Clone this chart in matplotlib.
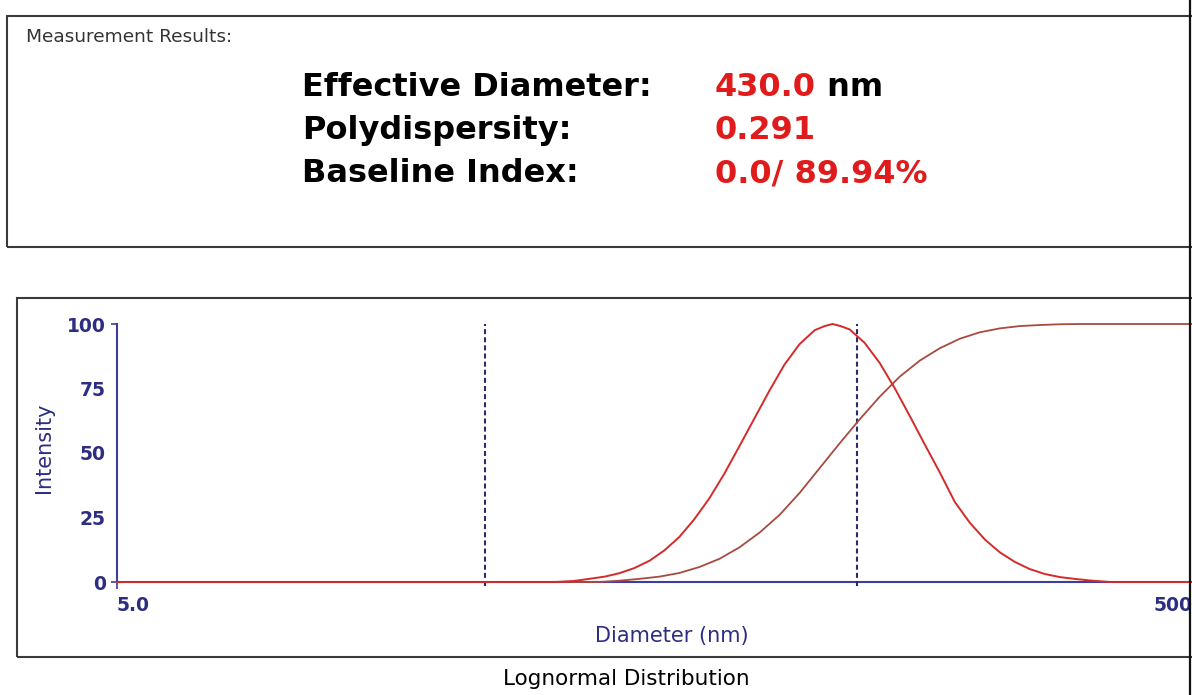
import matplotlib
matplotlib.use("Agg")
import matplotlib.pyplot as plt
from matplotlib.patches import Rectangle
from matplotlib.lines import Line2D
from matplotlib.ticker import NullLocator

W, H = 1192, 695

# measurement summary
result_labels = ["Effective Diameter:", "Polydispersity:", "Baseline Index:"]
result_values = ["430.0", "0.291", "0.0/ 89.94%"]
result_units = [" nm", "", ""]

# intensity distribution, diameter in nm
diam_dist = [5, 93, 105, 116, 129, 142, 157, 174, 192, 212, 234, 259, 286, 316, 350,
             387, 427, 472, 522, 558, 588, 620, 659, 728, 805, 890, 984, 1087, 1201, 1328,
             1467, 1621, 1792, 1980, 2189, 2419, 2673, 2954, 3265, 3731, 6500]
intensity = [0, 0, 0.4, 1.2, 2.1, 3.4, 5.4, 8.3, 12.3, 17.5, 24.3, 32.5, 42.0, 52.6, 63.6,
             74.4, 84.3, 92.2, 97.6, 99.2, 100.0, 99.2, 97.9, 92.7, 84.9, 75.1, 64.3, 53.3,
             42.5, 31.0, 23.0, 16.5, 11.5, 7.8, 5.0, 3.1, 1.9, 1.2, 0.6, 0, 0]

# cumulative curve
diam_cum = [5, 124, 142, 162, 186, 212, 242, 277, 316, 362, 413, 472, 540, 617, 704,
            805, 920, 1051, 1201, 1373, 1569, 1792, 2048, 2339, 2673, 3055, 6500]
cumulative = [0, 0, 0.5, 1.2, 2.1, 3.5, 5.8, 9.0, 13.4, 19.2, 26.0, 34.5, 44.2, 53.8, 63.0,
              71.8, 79.6, 85.8, 90.6, 94.3, 96.8, 98.3, 99.2, 99.6, 99.9, 100, 100]

marker_diams = [58, 690]

x_ticks = [5, 5000]
x_tick_labels = ["5.0", "5000"]
y_major = [0, 100]
y_minor = [25, 50, 75]

NAVY = "#2d2d82"
AXIS = "#3d3d9e"
RED = "#e01b1b"


def fx(x):
    return x / W


def fy(y):
    return 1 - y / H


fig = plt.figure(figsize=(W / 100, H / 100), dpi=100)

# frames
fig.add_artist(Rectangle((fx(7), fy(247)), 1.2, fy(16) - fy(247), transform=fig.transFigure,
                         fill=False, ec="#3a3a3a", lw=1.5))
fig.add_artist(Rectangle((fx(17), fy(657)), 1.2, fy(298) - fy(657), transform=fig.transFigure,
                         fill=False, ec="#3a3a3a", lw=1.5))
fig.add_artist(Line2D([fx(1190), fx(1190)], [0, 1], transform=fig.transFigure,
                      color="#111111", lw=1.6, zorder=5))

# results text
fig.text(fx(26), fy(42), "Measurement Results:", fontsize=13.3, color="#333333", va="baseline")
baselines = [96, 139, 182]
for lab, val, unit, b in zip(result_labels, result_values, result_units, baselines):
    fig.text(fx(302), fy(b), lab, fontsize=23, fontweight="bold", color="black", va="baseline")
    t = fig.text(fx(715), fy(b), val, fontsize=23, fontweight="bold", color=RED, va="baseline")
    if unit:
        fig.add_artist(matplotlib.text.Annotation(unit, xy=(1, 0), xycoords=t, va="bottom",
                                                  ha="left", fontsize=23, fontweight="bold",
                                                  color="black"))

# distribution plot
ax = fig.add_axes([fx(117), fy(582), 1 - fx(117), fy(324) - fy(582)])
ax.set_facecolor("none")
ax.set_xscale("log")
ax.set_xlim(5, 6448)
ax.set_ylim(0, 100)

ax.vlines(marker_diams, -1.5, 100, colors="#2b2b6b", lw=1.5, linestyles=(0, (2.4, 1.5)),
          zorder=2, clip_on=False)
ax.plot(diam_cum, cumulative, color="#a84a3e", lw=1.3, zorder=3, clip_on=False)
ax.plot(diam_dist, intensity, color="#d42a2a", lw=1.4, zorder=4, clip_on=False)

for side in ["top", "right"]:
    ax.spines[side].set_visible(False)
for side in ["left", "bottom"]:
    ax.spines[side].set_color(AXIS)
    ax.spines[side].set_linewidth(1.5)
    ax.spines[side].set_zorder(1)

ax.xaxis.set_minor_locator(NullLocator())
ax.set_xticks(x_ticks, labels=x_tick_labels)
for lab in ax.get_xticklabels():
    lab.set_horizontalalignment("left")
ax.xaxis.get_major_ticks()[1].tick1line.set_visible(False)
ax.set_yticks(y_major, labels=[str(v) for v in y_major])
ax.set_yticks(y_minor, labels=[str(v) for v in y_minor], minor=True)
ax.tick_params(axis="x", which="major", length=5, width=1.2, color=AXIS, pad=5,
               labelsize=13.5, labelcolor=NAVY)
ax.tick_params(axis="y", which="major", length=4, width=1.2, color=AXIS, pad=4,
               labelsize=13.5, labelcolor=NAVY)
ax.tick_params(axis="y", which="minor", length=0, pad=8, labelsize=13.5, labelcolor=NAVY)
for lab in ax.get_xticklabels() + ax.get_yticklabels() + ax.get_yticklabels(minor=True):
    lab.set_fontweight("bold")

fig.text(fx(44), fy(448), "Intensity", rotation=90, fontsize=15, color=NAVY,
         ha="center", va="center")
fig.text(fx(672), fy(636), "Diameter (nm)", fontsize=15, color=NAVY, ha="center", va="center")
fig.text(fx(626), fy(679), "Lognormal Distribution", fontsize=15.5, color="black",
         ha="center", va="center")

fig.savefig("out.png", dpi=100)
